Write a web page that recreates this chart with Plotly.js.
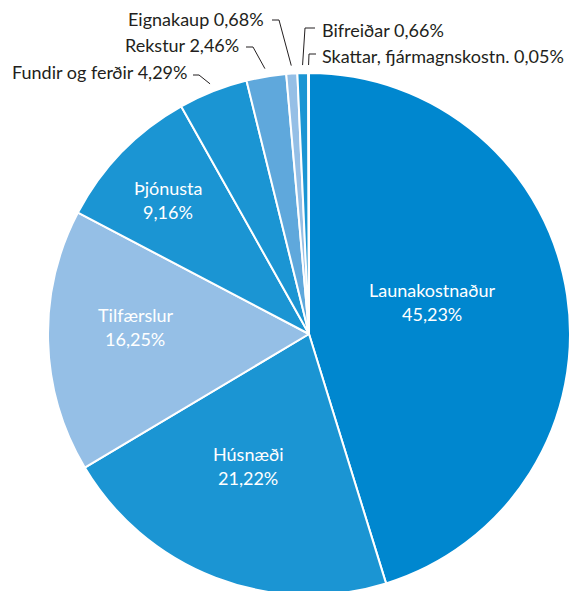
<!DOCTYPE html>
<html>
<head>
<meta charset="utf-8">
<script src="https://cdn.plot.ly/plotly-3.0.1.min.js"></script>
<style>
html,body{margin:0;padding:0;overflow:hidden;background:#fff;}
#chart{width:573px;height:600px;}
</style>
</head>
<body>
<div id="chart"></div>
<script>
// ---- data ----
const categories = ['Launakostnaður','Húsnæði','Tilfærslur','Þjónusta','Fundir og ferðir','Rekstur','Eignakaup','Bifreiðar','Skattar, fjármagnskostn.'];
const shares = [45.23, 21.22, 16.25, 9.16, 4.29, 2.46, 0.68, 0.66, 0.05];
const sliceColors = ['#0087CF','#1B95D3','#95BFE6','#1B95D3','#1B95D3','#5FA8DC','#95BFE6','#1B95D3','#95BFE6'];

// ---- layout geometry (pixels) ----
const W = 573, H = 600;
const cx = 309, cy = 334, R = 261;
const FONT = 'Lato, "Open Sans", sans-serif';
const FS = 18;
const DARK = '#231f20';

// inside label placements (pixel centre of the two lines)
const insideLabels = {
  0: {x: 432, y1: 290, y2: 314},
  1: {x: 248, y1: 454, y2: 478},
  2: {x: 135, y1: 315, y2: 339},
  3: {x: 168, y1: 188, y2: 212}
};
// outside labels: side, text anchor point, tick y, tick start x, knee x
const outsideLabels = {
  4: {side: 'left',  tx: 189, ty: 72, kx: 199, ky: 75, tickX: 193},
  5: {side: 'left',  tx: 241, ty: 45, kx: 253, ky: 47, tickX: 246},
  6: {side: 'left',  tx: 266, ty: 19, kx: 279, ky: 20, tickX: 272},
  7: {side: 'right', tx: 320, ty: 30, kx: 305, ky: 28, tickX: 315},
  8: {side: 'right', tx: 320, ty: 56, kx: 309, ky: 54, tickX: 316}
};

const px = x => x / W;
const py = y => 1 - y / H;
const fmt = v => v.toFixed(2).replace('.', ',') + '%';

const total = shares.reduce((a, b) => a + b, 0);
let cum = 0;
const midAngles = shares.map(v => { const m = (cum + v / 2) / total; cum += v; return m * 2 * Math.PI; });

const annotations = [];
const shapes = [];
categories.forEach((name, i) => {
  if (insideLabels[i]) {
    const p = insideLabels[i];
    [[name, p.y1], [fmt(shares[i]), p.y2]].forEach(([t, y]) => {
      annotations.push({text: t, x: px(p.x), y: py(y), xref: 'paper', yref: 'paper',
        showarrow: false, xanchor: 'center', yanchor: 'middle',
        font: {family: FONT, size: FS, color: '#ffffff'}});
    });
  } else if (outsideLabels[i]) {
    const o = outsideLabels[i];
    const a = midAngles[i];
    const ex = cx + (R + 8) * Math.sin(a);
    const ey = cy - (R + 8) * Math.cos(a);
    annotations.push({text: name + ' ' + fmt(shares[i]), x: px(o.tx), y: py(o.ty), xref: 'paper', yref: 'paper',
      showarrow: false, xanchor: o.side === 'left' ? 'right' : 'left', yanchor: 'middle',
      font: {family: FONT, size: FS, color: DARK}});
    shapes.push({type: 'line', xref: 'paper', yref: 'paper', x0: px(o.tickX), y0: py(o.ky), x1: px(o.kx), y1: py(o.ky),
      line: {color: DARK, width: 1}});
    shapes.push({type: 'line', xref: 'paper', yref: 'paper', x0: px(o.kx), y0: py(o.ky), x1: px(ex), y1: py(ey),
      line: {color: DARK, width: 1}});
  }
});

const trace = {
  type: 'pie',
  labels: categories,
  values: shares,
  sort: false,
  direction: 'clockwise',
  rotation: 0,
  marker: {colors: sliceColors, line: {color: '#ffffff', width: 2}},
  textinfo: 'none',
  hoverinfo: 'none',
  domain: {x: [px(cx - R), px(cx + R)], y: [py(cy + R), py(cy - R)]}
};

const layout = {
  width: W, height: H,
  margin: {l: 0, r: 0, t: 0, b: 0},
  showlegend: false,
  paper_bgcolor: '#ffffff',
  annotations: annotations,
  shapes: shapes
};

Plotly.newPlot('chart', [trace], layout, {staticPlot: true, displayModeBar: false});
</script>
</body>
</html>
